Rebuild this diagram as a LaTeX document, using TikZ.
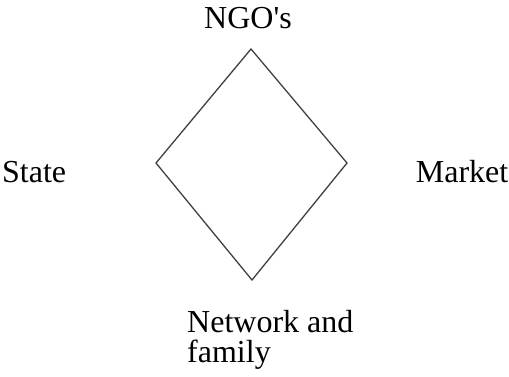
\documentclass[tikz,border=0pt]{standalone}
\usepackage{fontspec}
\setmainfont{Liberation Serif}[Ligatures=TeXOff]
\begin{document}
\begin{tikzpicture}[x=1pt,y=-1pt,
  lbl/.style={inner sep=0pt,anchor=base west,font=\fontsize{32}{30}\selectfont},
  edge/.style={draw=black!75,line width=1.3pt,line join=miter}]
\useasboundingbox (0,0) rectangle (509,376);
\coordinate (T) at (251,49);
\coordinate (L) at (156,163);
\coordinate (R) at (347,163);
\coordinate (B) at (252,280);
\draw[edge] (T) -- (R) -- (B) -- (L) -- cycle;
\node[lbl] (ngo) at (204,28) {NGO's};
\node[lbl] (state) at (2,182) {State};
\node[lbl,anchor=base east] (market) at (508.5,182) {Market};
\node[lbl] (net) at (187,332) {Network and};
\node[lbl] (fam) at (187,362) {family};
\end{tikzpicture}
\end{document}
